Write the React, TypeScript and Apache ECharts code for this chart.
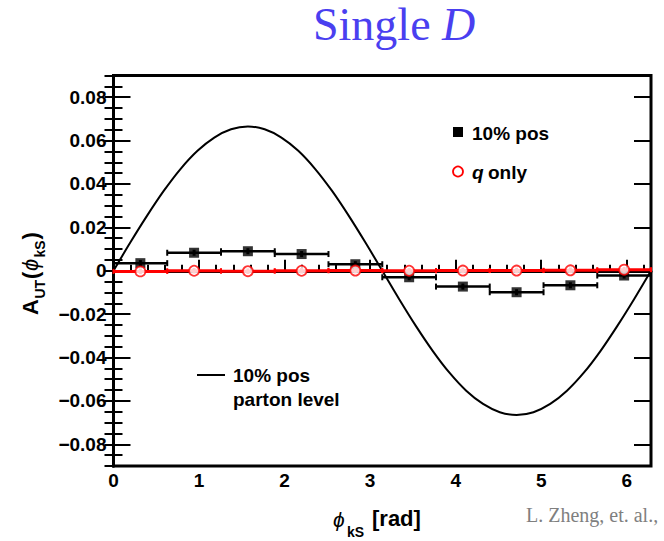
import React, { useEffect, useRef } from 'react';
import * as echarts from 'echarts';

const X_MAX = 6.283185;
const binEdges = [0, 0.628, 1.257, 1.885, 2.513, 3.142, 3.770, 4.398, 5.027, 5.655, 6.283];
const binCenters = [0.314, 0.942, 1.571, 2.199, 2.827, 3.456, 4.084, 4.712, 5.341, 5.969];
const posValues = [0.0035, 0.0083, 0.0090, 0.0077, 0.0030, -0.0030, -0.0073, -0.0099, -0.0067, -0.0022];
const posErrors = [0.0014, 0.0014, 0.0014, 0.0014, 0.0014, 0.0014, 0.0014, 0.0014, 0.0014, 0.0014];
const qValues = [-0.0003, 0.0000, -0.0002, 0.0000, 0.0001, 0.0000, 0.0001, 0.0001, 0.0002, 0.0005];
const qErrors = [0.0013, 0.0013, 0.0013, 0.0013, 0.0013, 0.0013, 0.0013, 0.0013, 0.0013, 0.0013];
const curveX = [0, 0.196, 0.393, 0.589, 0.785, 0.982, 1.178, 1.374, 1.571, 1.767, 1.963, 2.160, 2.356, 2.553, 2.749, 2.945, 3.142, 3.338, 3.534, 3.731, 3.927, 4.123, 4.320, 4.516, 4.712, 4.909, 5.105, 5.301, 5.498, 5.694, 5.890, 6.087, 6.283];
const curveY = [0, 0.0130, 0.0254, 0.0369, 0.0470, 0.0553, 0.0614, 0.0652, 0.0665, 0.0652, 0.0614, 0.0553, 0.0470, 0.0369, 0.0254, 0.0130, 0, -0.0130, -0.0254, -0.0369, -0.0470, -0.0553, -0.0614, -0.0652, -0.0665, -0.0652, -0.0614, -0.0553, -0.0470, -0.0369, -0.0254, -0.0130, 0];
const yLabelTicks = [-0.08, 0.08, 0.02];

const SANS = '"Liberation Sans", Arial, Helvetica, sans-serif';
const SERIF = '"Liberation Serif", "Times New Roman", serif';

function fmtY(v: number): string {
  if (Math.abs(v) < 1e-9) return '0';
  return v < 0 ? '\u2212' + Math.abs(v).toFixed(2) : v.toFixed(2);
}

function errorBarItem(color: string, width: number, cap: number) {
  return (params: any, api: any) => {
    const xc = api.value(0), y = api.value(1);
    const c = api.coord([xc, y]);
    const l = api.coord([api.value(2), y]);
    const r = api.coord([api.value(3), y]);
    const b = api.coord([xc, api.value(4)]);
    const t = api.coord([xc, api.value(5)]);
    const st = { stroke: color, lineWidth: width };
    return {
      type: 'group',
      children: [
        { type: 'line', shape: { x1: l[0], y1: l[1], x2: r[0], y2: r[1] }, style: st },
        { type: 'line', shape: { x1: l[0], y1: l[1] - cap, x2: l[0], y2: l[1] + cap }, style: { stroke: color, lineWidth: 2 } },
        { type: 'line', shape: { x1: r[0], y1: r[1] - cap, x2: r[0], y2: r[1] + cap }, style: { stroke: color, lineWidth: 2 } },
        { type: 'line', shape: { x1: c[0], y1: t[1], x2: c[0], y2: b[1] }, style: { stroke: color, lineWidth: 3 } },
      ],
    };
  };
}

function txt(text: string, x: number, y: number, size: number, opts: any = {}) {
  return {
    type: 'text',
    x: 0,
    y: 0,
    style: {
      text,
      x,
      y,
      fontSize: size,
      fontFamily: opts.family || SANS,
      fontWeight: opts.weight || 'bold',
      fontStyle: opts.style || 'normal',
      fill: opts.color || '#000',
      align: opts.align || 'left',
      textAlign: opts.align || 'left',
      verticalAlign: 'middle',
      textVerticalAlign: 'middle',
    },
  };
}

export default function App() {
  const ref = useRef<HTMLDivElement>(null);
  useEffect(() => {
    if (!ref.current) return;
    const chart = echarts.init(ref.current, undefined, { renderer: 'svg' });
    const posData = binCenters.map((x, i) => [x, posValues[i], binEdges[i], binEdges[i + 1], posValues[i] - posErrors[i], posValues[i] + posErrors[i]]);
    const qData = binCenters.map((x, i) => [x, qValues[i], binEdges[i], binEdges[i + 1], qValues[i] - qErrors[i], qValues[i] + qErrors[i]]);
    const curveData = curveX.map((x, i) => [x, curveY[i]]);

    const top = 75.5, bottom = 75, left = 113.5, right = 13;
    const h = 541 - top - bottom;
    const pad = (h * 0.01) / 0.18;

    const tickLabel = { show: false };
    const option: any = {
      animation: false,
      backgroundColor: '#fff',
      grid: [
        { left, right, top, bottom, show: true, borderColor: '#000', borderWidth: 3, backgroundColor: 'transparent' },
        { left, right, top: top + pad, bottom: bottom + pad, show: false },
      ],
      xAxis: [
        {
          gridIndex: 0, type: 'value', min: 0, max: X_MAX, interval: 1, position: 'bottom',
          axisLine: { show: true, lineStyle: { color: '#000', width: 3 } },
          axisTick: { show: true, inside: true, length: 11, lineStyle: { color: '#000', width: 2 } },
          axisLabel: { show: true, showMaxLabel: false, fontSize: 19, fontWeight: 'bold', fontFamily: SANS, color: '#000', margin: 5 },
          splitLine: { show: false },
        },
        {
          gridIndex: 0, type: 'value', min: 0, max: X_MAX, interval: 0.2, position: 'bottom',
          axisLine: { show: false },
          axisTick: { show: true, inside: true, length: 6, lineStyle: { color: '#000', width: 2 } },
          axisLabel: tickLabel,
          splitLine: { show: false },
        },
        { gridIndex: 1, type: 'value', min: 0, max: X_MAX, show: false },
      ],
      yAxis: [
        {
          gridIndex: 0, type: 'value', min: -0.09, max: 0.09, interval: 0.005, position: 'left',
          axisLine: { show: true, lineStyle: { color: '#000', width: 3 } },
          axisTick: { show: true, inside: true, length: 9, lineStyle: { color: '#000', width: 2 } },
          axisLabel: tickLabel,
          splitLine: { show: false },
        },
        {
          gridIndex: 0, type: 'value', min: -0.09, max: 0.09, interval: 0.005, position: 'right',
          axisLine: { show: true, lineStyle: { color: '#000', width: 3 } },
          axisTick: { show: true, inside: true, length: 9, lineStyle: { color: '#000', width: 2 } },
          axisLabel: tickLabel,
          splitLine: { show: false },
        },
        {
          gridIndex: 1, type: 'value', min: yLabelTicks[0], max: yLabelTicks[1], interval: yLabelTicks[2], position: 'left',
          axisLine: { show: false },
          axisTick: { show: true, inside: true, length: 17, lineStyle: { color: '#000', width: 2 } },
          axisLabel: { show: true, formatter: fmtY, fontSize: 19, fontWeight: 'bold', fontFamily: SANS, color: '#000', margin: 7 },
          splitLine: { show: false },
        },
        {
          gridIndex: 1, type: 'value', min: yLabelTicks[0], max: yLabelTicks[1], interval: yLabelTicks[2], position: 'right',
          axisLine: { show: false },
          axisTick: { show: true, inside: true, length: 17, lineStyle: { color: '#000', width: 2 } },
          axisLabel: tickLabel,
          splitLine: { show: false },
        },
      ],
      series: [
        {
          type: 'line', name: '10% pos parton level', xAxisIndex: 0, yAxisIndex: 0,
          data: curveData, smooth: 0.35, symbol: 'none',
          lineStyle: { color: '#000', width: 2 }, z: 2,
        },
        {
          type: 'custom', name: '10% pos bars', xAxisIndex: 0, yAxisIndex: 0,
          data: posData, encode: { x: [0, 2, 3], y: [1, 4, 5] },
          renderItem: errorBarItem('#000', 2.5, 3), z: 3,
        },
        {
          type: 'scatter', name: '10% pos', xAxisIndex: 0, yAxisIndex: 0,
          data: posData.map((d) => [d[0], d[1]]), symbol: 'rect', symbolSize: 10,
          itemStyle: { color: '#000' }, z: 4,
        },
        {
          type: 'custom', name: 'q only bars', xAxisIndex: 0, yAxisIndex: 0,
          data: qData, encode: { x: [0, 2, 3], y: [1, 4, 5] },
          renderItem: errorBarItem('#ff0000', 3, 2.5), z: 5,
        },
        {
          type: 'scatter', name: 'q only', xAxisIndex: 0, yAxisIndex: 0,
          data: qData.map((d) => [d[0], d[1]]), symbol: 'circle', symbolSize: 10,
          itemStyle: { color: '#fff', borderColor: '#ff0000', borderWidth: 1.8 }, z: 6,
        },
      ],
      graphic: [
        {
          type: 'text', x: 0, y: 0,
          style: {
            text: '{a|Single }{b|D}', x: 313, y: 24,
            align: 'left', textAlign: 'left', verticalAlign: 'middle', textVerticalAlign: 'middle',
            rich: {
              a: { fontFamily: SERIF, fontSize: 46, lineHeight: 40, fill: '#4a3ff0', color: '#4a3ff0' },
              b: { fontFamily: SERIF, fontSize: 46, lineHeight: 40, fontStyle: 'italic', fill: '#4a3ff0', color: '#4a3ff0' },
            },
          },
        },
        {
          type: 'group', x: 30, y: 315, rotation: Math.PI / 2,
          children: [
            txt('A', 0, 0, 22),
            txt('UT', 16.5, 10, 14),
            txt('(', 36, 0, 22),
            txt('\u03D5', 44, 0, 22, { weight: 'normal', style: 'italic' }),
            txt('kS', 57.5, 10, 14),
            txt(')', 75.5, 0, 22),
          ],
        },
        txt('\u03D5', 333, 519, 21, { weight: 'normal', style: 'italic' }),
        txt('kS', 347, 532, 14),
        txt('[rad]', 372, 518, 22),
        { type: 'rect', shape: { x: 453, y: 127, width: 10, height: 10 }, style: { fill: '#000' } },
        txt('10% pos', 472, 133, 19),
        { type: 'circle', shape: { cx: 458, cy: 171.5, r: 5 }, style: { fill: '#fff', stroke: '#ff0000', lineWidth: 1.8 } },
        txt('q', 472, 172, 19, { style: 'italic' }),
        txt('only', 488, 172, 19),
        { type: 'line', shape: { x1: 197, y1: 375, x2: 225, y2: 375 }, style: { stroke: '#000', lineWidth: 2 } },
        txt('10% pos', 233, 375, 19),
        txt('parton level', 233, 399, 19),
        txt('L. Zheng, et. al.,', 526, 515, 20, { family: SERIF, weight: 'normal', color: '#7f7f7f' }),
      ],
    };
    chart.setOption(option);
    return () => chart.dispose();
  }, []);
  return <div ref={ref} style={{ position: 'fixed', left: 0, top: 0, width: 664, height: 541, background: '#fff' }} />;
}
